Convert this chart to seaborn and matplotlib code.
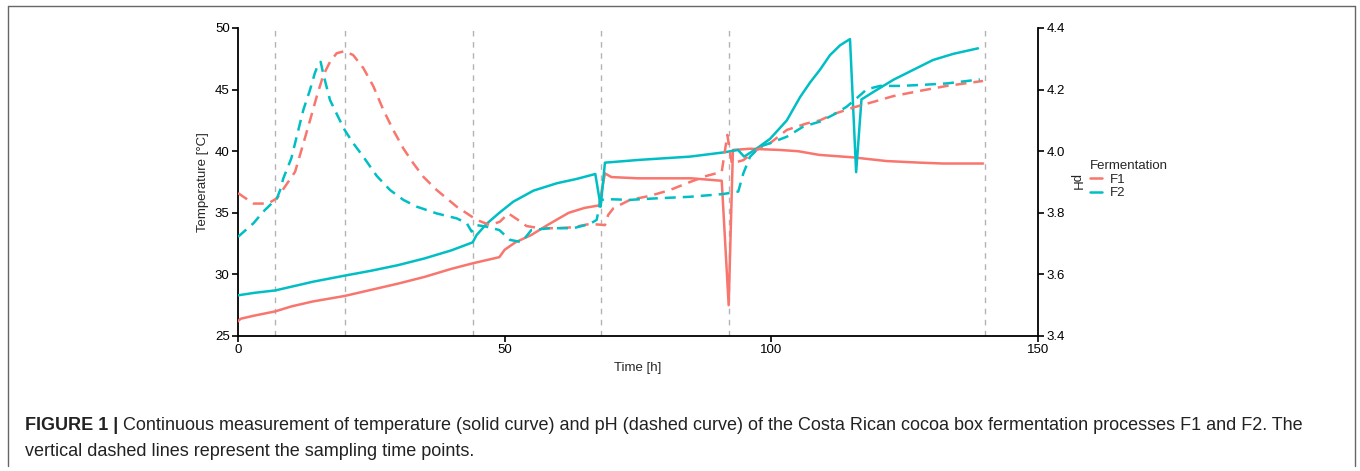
import numpy as np
import pandas as pd
import seaborn as sns
import matplotlib
matplotlib.use("Agg")
import matplotlib.pyplot as plt
from matplotlib.lines import Line2D

# ---------------- data ----------------
f1_temp_t = [0, 0.5, 3, 7, 10, 14, 20, 25, 30, 35, 40, 44, 49, 50, 52, 55, 58, 62, 65, 67.7,
             68.8, 70, 75, 80, 85, 90.7, 92, 92.8, 96, 101.6, 105, 109, 115.3, 121.6, 127.9,
             132.2, 139.7]
f1_temp = [26.2, 26.4, 26.65, 27.0, 27.4, 27.8, 28.25, 28.75, 29.25, 29.8, 30.45, 30.9, 31.4,
           32.0, 32.6, 33.2, 34.0, 35.0, 35.4, 35.6, 38.2, 37.9, 37.8, 37.8, 37.8, 37.6, 27.5,
           40.1, 40.2, 40.1, 40.0, 39.7, 39.5, 39.2, 39.07, 39.0, 39.0]

f2_temp_t = [0, 3, 7, 10, 14, 20, 25, 30, 35, 40, 44, 44.75, 46.6, 49, 51.6, 55.4, 59.8, 63.5,
             67, 68, 68.8, 75.4, 84.75, 91, 93.75, 94.9, 97.3, 99.75, 102.9, 105.4, 107.3,
             109.1, 111, 112.9, 114.75, 115.9, 116.9, 119.1, 122.9, 126.6, 130.3, 134.1, 138.75]
f2_temp = [28.3, 28.5, 28.7, 29.0, 29.4, 29.9, 30.3, 30.75, 31.3, 31.95, 32.6, 33.2, 34.1, 35.0,
           35.9, 36.8, 37.4, 37.75, 38.15, 35.5, 39.07, 39.3, 39.56, 39.9, 40.1, 39.56, 40.23,
           41.0, 42.5, 44.4, 45.6, 46.6, 47.8, 48.6, 49.1, 38.3, 44.2, 44.8, 45.8, 46.6, 47.4,
           47.9, 48.35]

f1_ph_t = [0, 2.9, 5.6, 7.3, 9.4, 10.7, 11.9, 13.5, 14.75, 16, 17.25, 18.5, 20, 21.6, 23.5,
           25.4, 27.25, 29.1, 31, 32.9, 34.75, 37.25, 41, 44.75, 47.25, 49.1, 50.7, 52.25,
           54.1, 56.6, 59.75, 62.8, 66, 68.8, 69.4, 70.4, 73.5, 77.25, 81, 84.75, 87.9, 90.7,
           91.75, 92.6, 94.75, 97.25, 99.75, 102.9, 106.6, 109.1, 111.6, 115.4, 119.1, 122.9,
           127.9, 132.9, 139.7]
f1_ph = [3.864, 3.83, 3.83, 3.847, 3.90, 3.933, 4.004, 4.10, 4.177, 4.247, 4.29, 4.318, 4.325,
         4.312, 4.27, 4.21, 4.134, 4.069, 4.009, 3.96, 3.917, 3.874, 3.82, 3.777, 3.76, 3.771,
         3.798, 3.78, 3.757, 3.75, 3.75, 3.753, 3.764, 3.76, 3.793, 3.815, 3.842, 3.855, 3.874,
         3.90, 3.92, 3.933, 4.053, 3.96, 3.971, 4.004, 4.026, 4.069, 4.09, 4.10, 4.12, 4.142,
         4.16, 4.179, 4.196, 4.212, 4.228]

f2_ph_t = [0, 2.9, 4.75, 7.3, 7.9, 8.5, 10, 11, 12.25, 13.5, 14.4, 15.1, 15.5, 16, 17.25, 19.1,
           20, 21.6, 23.5, 26, 28.5, 31, 33.5, 37.25, 41, 42.9, 43.8, 44.75, 46.6, 49, 51,
           53.2, 55, 58.5, 62.9, 66, 67.25, 68, 69.75, 73.5, 78.5, 84.75, 91, 93.8, 94.75, 96,
           97.9, 99.75, 102.9, 106, 109.1, 111.6, 114.1, 116, 117.9, 120.4, 124.1, 127.9,
           132.9, 139.1]
f2_ph = [3.722, 3.766, 3.804, 3.847, 3.874, 3.912, 3.977, 4.047, 4.134, 4.199, 4.253, 4.285,
         4.29, 4.25, 4.166, 4.10, 4.069, 4.026, 3.982, 3.92, 3.874, 3.842, 3.82, 3.798, 3.782,
         3.766, 3.739, 3.76, 3.755, 3.744, 3.712, 3.705, 3.744, 3.75, 3.75, 3.764, 3.777,
         3.842, 3.844, 3.842, 3.847, 3.852, 3.861, 3.869, 3.928, 3.982, 4.015, 4.026, 4.047,
         4.08, 4.096, 4.118, 4.144, 4.172, 4.201, 4.212, 4.212, 4.215, 4.22, 4.233]

sampling_times = [7, 20, 44, 68, 92, 140]
fermentations = ["F1", "F2"]
x_ticks = [0, 50, 100, 150]
temp_ticks = [25, 30, 35, 40, 45, 50]
ph_ticks = [3.4, 3.6, 3.8, 4.0, 4.2, 4.4]
caption_bold = "FIGURE 1 |"
caption_rest = (" Continuous measurement of temperature (solid curve) and pH (dashed curve) of "
                "the Costa Rican cocoa box fermentation processes F1 and F2. The")
caption_line2 = "vertical dashed lines represent the sampling time points."

# ---------------- tables ----------------
temp_df = pd.concat([
    pd.DataFrame({"Time": f1_temp_t, "Value": f1_temp, "Fermentation": "F1"}),
    pd.DataFrame({"Time": f2_temp_t, "Value": f2_temp, "Fermentation": "F2"}),
])
ph_df = pd.concat([
    pd.DataFrame({"Time": f1_ph_t, "Value": f1_ph, "Fermentation": "F1"}),
    pd.DataFrame({"Time": f2_ph_t, "Value": f2_ph, "Fermentation": "F2"}),
])

palette = {"F1": "#F8766D", "F2": "#00BFC4"}

sns.set_style("ticks")
plt.rcParams["font.family"] = ["Liberation Sans", "DejaVu Sans"]

fig = plt.figure(figsize=(13.6, 4.71), dpi=100)
ax = fig.add_axes([238 / 1360, 1 - 336 / 471, 800 / 1360, 308 / 471])
ax2 = ax.twinx()

for t in sampling_times:
    ax.axvline(t, color="#b3b3b3", lw=1.0, ls=(0, (4, 4)), zorder=1)

sns.lineplot(data=temp_df, x="Time", y="Value", hue="Fermentation", palette=palette,
             estimator=None, sort=True, ax=ax, legend=False, lw=1.8, zorder=3)
sns.lineplot(data=ph_df, x="Time", y="Value", hue="Fermentation", palette=palette,
             estimator=None, sort=True, ax=ax2, legend=False, lw=1.8,
             linestyle=(0, (4.4, 2.8)), zorder=3)

ax.set_xlim(0, 150)
ax.set_ylim(25, 50)
ax2.set_ylim(3.4, 4.4)
ax.set_xticks(x_ticks)
ax.set_yticks(temp_ticks)
ax2.set_yticks(ph_ticks)
ax2.set_yticklabels([f"{v:.1f}" for v in ph_ticks])

for a in (ax, ax2):
    a.spines["top"].set_visible(False)
    for s in ("left", "bottom", "right"):
        a.spines[s].set_linewidth(1.3)
        a.spines[s].set_color("black")
    a.tick_params(axis="both", length=4, width=1.2, color="black", labelsize=9.5,
                  labelcolor="black", pad=2)
ax2.spines["left"].set_visible(False)
ax2.spines["bottom"].set_visible(False)
ax.spines["right"].set_visible(False)

ax.set_xlabel("Time [h]", fontsize=9.5, labelpad=4)
ax.set_ylabel("Temperature [°C]", fontsize=9.5, labelpad=4)
ax2.set_ylabel("pH", fontsize=9.5, rotation=-90, labelpad=3, va="bottom")

handles = [Line2D([], [], color=palette[f], lw=1.8) for f in fermentations]
leg = fig.legend(handles, fermentations, title="Fermentation", loc="upper left",
                 bbox_to_anchor=(1085 / 1360, 1 - 155 / 471), frameon=False,
                 fontsize=9.5, title_fontsize=9.5, handlelength=0.9, handletextpad=0.6,
                 labelspacing=0.1, borderaxespad=0)
leg._legend_box.align = "left"

# caption
cap_fs = 13
t1 = fig.text(25 / 1360, 1 - 425 / 471, caption_bold, fontsize=cap_fs, fontweight="bold",
              color="#222222", va="center", ha="left")
fig.canvas.draw()
bb = t1.get_window_extent()
fig.text(bb.x1 / 1360, 1 - 425 / 471, caption_rest, fontsize=cap_fs, color="#222222",
         va="center", ha="left")
fig.text(25 / 1360, 1 - 451 / 471, caption_line2, fontsize=cap_fs, color="#222222",
         va="center", ha="left")

# frame
fx0, fx1 = 8 / 1360, 1355 / 1360
fy_top, fy_bot = 1 - 6 / 471, 1 - 466 / 471
for xs, ys in [((fx0, fx0), (fy_bot, fy_top)), ((fx0, fx1), (fy_top, fy_top)),
               ((fx1, fx1), (fy_top, fy_bot))]:
    fig.add_artist(Line2D(xs, ys, color="#666666", lw=1.0, transform=fig.transFigure))

fig.savefig("out.png", dpi=100)
